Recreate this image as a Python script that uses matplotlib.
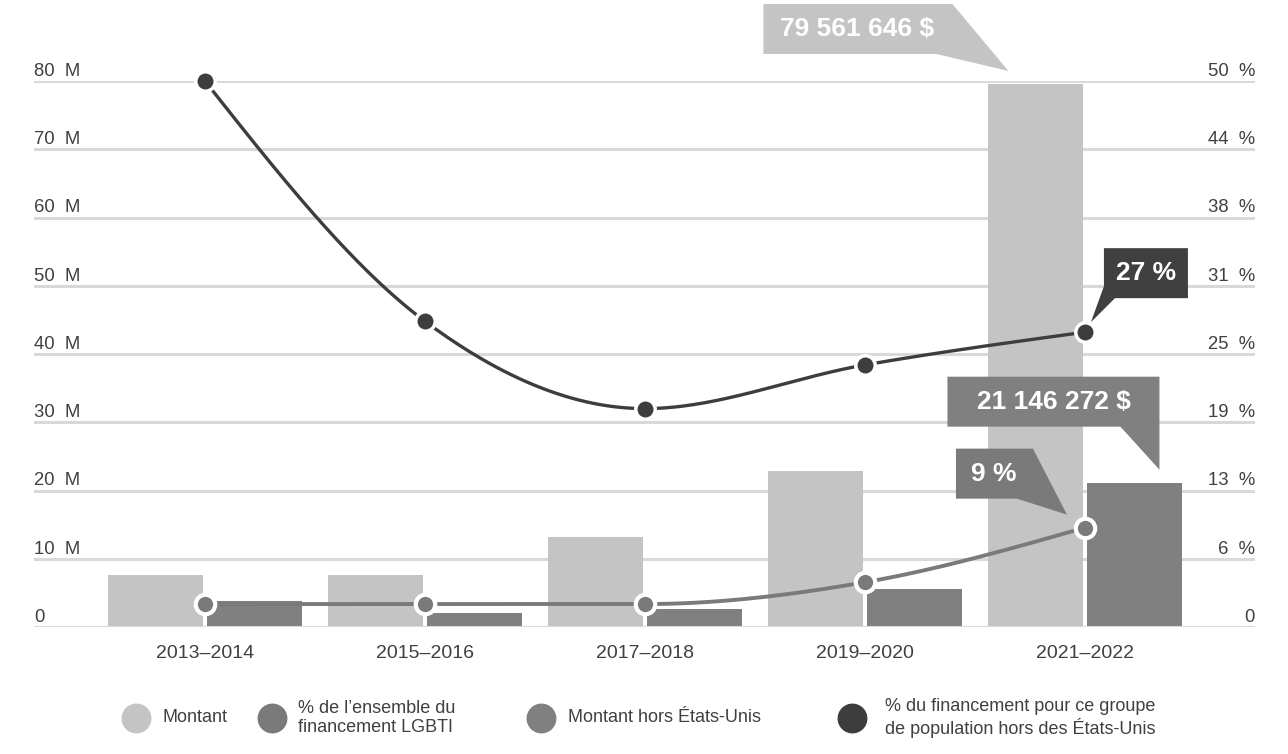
import numpy as np
import matplotlib.pyplot as plt
import matplotlib.transforms as mtransforms
from matplotlib.patches import Polygon
from matplotlib.lines import Line2D

plt.rcParams['font.family'] = ['Liberation Sans', 'DejaVu Sans']

# données
periodes = ['2013–2014', '2015–2016', '2017–2018', '2019–2020', '2021–2022']
montant = [7.6e6, 7.6e6, 13.2e6, 22.9e6, 79561646]
montant_hors_us = [3.8e6, 2.05e6, 2.6e6, 5.6e6, 21146272]
pct_ensemble = [2.1, 2.1, 2.1, 4.1, 9.1]
pct_hors_us = [50, 28, 20, 24, 27]

ticks_gauche = [0, 10e6, 20e6, 30e6, 40e6, 50e6, 60e6, 70e6, 80e6]
labels_gauche = ['0', '10  M', '20  M', '30  M', '40  M', '50  M', '60  M', '70  M', '80  M']
ticks_droite = [0, 6.25, 12.5, 18.75, 25, 31.25, 37.5, 43.75, 50]
labels_droite = ['0', '6  %', '13  %', '19  %', '25  %', '31  %', '38  %', '44  %', '50  %']

legende = ['Montant', '% de l’ensemble du\nfinancement LGBTI',
           'Montant hors États-Unis',
           '% du financement pour ce groupe\nde population hors des États-Unis']

# couleurs
c_clair, c_fonce_barre, c_ligne_moy, c_ligne_fonce = '#c4c4c4', '#808080', '#7a7a7a', '#3d3d3d'
c_texte = '#404040'


def monotone(x, y, n=60):
    # courbe monotone (type d3 curveMonotoneX) passant par les points
    x = np.asarray(x, float)
    y = np.asarray(y, float)
    h = np.diff(x)
    s = np.diff(y) / h
    t = np.zeros_like(y)
    for i in range(1, len(y) - 1):
        p = (s[i - 1] * h[i] + s[i] * h[i - 1]) / (h[i - 1] + h[i])
        t[i] = (np.sign(s[i - 1]) + np.sign(s[i])) * min(abs(s[i - 1]), abs(s[i]), 0.5 * abs(p))
    t[0] = (3 * s[0] - t[1]) / 2
    t[-1] = (3 * s[-1] - t[-2]) / 2
    xs, ys = [], []
    u = np.linspace(0, 1, n)
    for i in range(len(h)):
        h00 = 2 * u**3 - 3 * u**2 + 1
        h10 = u**3 - 2 * u**2 + u
        h01 = -2 * u**3 + 3 * u**2
        h11 = u**3 - u**2
        xs.append(x[i] + u * h[i])
        ys.append(h00 * y[i] + h10 * h[i] * t[i] + h01 * y[i + 1] + h11 * h[i] * t[i + 1])
    return np.concatenate(xs), np.concatenate(ys)


W, H = 1288, 754
fig = plt.figure(figsize=(W / 100, H / 100), dpi=100)
ax = fig.add_axes([34 / W, 1 - 627 / H, (1255 - 34) / W, (627 - 81) / H])
x = np.arange(len(periodes))

largeur = 0.432
ax.bar(x - 0.225, montant, largeur, color=c_clair, zorder=2)
ax.bar(x + 0.225, montant_hors_us, largeur, color=c_fonce_barre, zorder=2)
ax.axhline(0, color='#d9d9d9', lw=2.2, zorder=2.5)

ax.set_ylim(0, 80e6)
ax.set_xlim(-0.777, 4.773)
ax.set_yticks(ticks_gauche)
ax.set_yticklabels([])
ax.yaxis.grid(True, color='#d9d9d9', lw=2.2)
ax.set_axisbelow(True)
for sp in ax.spines.values():
    sp.set_visible(False)
ax.tick_params(axis='y', length=0)
ax.set_xticks(x, periodes)
ax.tick_params(axis='x', length=0, pad=13, labelsize=14, colors=c_texte)

ax2 = ax.twinx()
ax2.set_ylim(0, 50)
ax2.set_yticks([])
for sp in ax2.spines.values():
    sp.set_visible(False)

# étiquettes des axes au-dessus des lignes
tr_g = mtransforms.blended_transform_factory(ax.transAxes, ax.transData)
tr_d = mtransforms.blended_transform_factory(ax2.transAxes, ax2.transData)
for v, lab in zip(ticks_gauche, labels_gauche):
    ax.text(0, v + 0.75e6, lab, transform=tr_g, ha='left', va='baseline', fontsize=13.3, color=c_texte)
for v, lab in zip(ticks_droite, labels_droite):
    ax2.text(1, v + 0.47, lab, transform=tr_d, ha='right', va='baseline', fontsize=13.3, color=c_texte)

# courbes
cx, cy = monotone(x, pct_ensemble)
ax2.plot(cx, cy, color=c_ligne_moy, lw=2.8, zorder=3, solid_capstyle='round')
ax2.plot(x, pct_ensemble, 'o', ms=14, color=c_ligne_moy, mec='white', mew=3, zorder=4, clip_on=False)
cx, cy = monotone(x, pct_hors_us)
ax2.plot(cx, cy, color=c_ligne_fonce, lw=2.4, zorder=3)
ax2.plot(x, pct_hors_us, 'o', ms=14, color=c_ligne_fonce, mec='white', mew=2.5, zorder=4, clip_on=False)

fig.canvas.draw()
ident = mtransforms.IdentityTransform()


def bulle(axe, point, forme, pos_texte, texte, couleur):
    # bulle d'annotation, décalages en pixels (y vers le bas) depuis le point
    px, py = axe.transData.transform(point)
    pts = [(px + dx, py - dy) for dx, dy in forme]
    fig.add_artist(Polygon(pts, closed=True, facecolor=couleur, edgecolor='none', transform=ident, zorder=5))
    fig.text(px + pos_texte[0], py - pos_texte[1], texte, transform=ident, ha='center', va='center',
             fontsize=19, fontweight='bold', color='white', zorder=6)


bulle(ax, (x[4] - 0.225, montant[4]),
      [(-272, -80), (-83, -80), (-27, -13), (-99, -30), (-272, -30)], (-178, -55),
      '79 561 646 $', c_clair)
bulle(ax, (x[4] + 0.225, montant_hors_us[4]),
      [(-187, -106), (25, -106), (25, -13), (-14, -56), (-187, -56)], (-81, -81),
      '21 146 272 $', c_fonce_barre)
bulle(ax2, (x[4], pct_hors_us[4]),
      [(19, -84), (103, -84), (103, -34), (30, -34), (6, -10), (19, -46)], (61, -59),
      '27 %', '#404040')
bulle(ax2, (x[4], pct_ensemble[4]),
      [(-129, -79), (-52, -79), (-18, -13), (-68, -29), (-129, -29)], (-91, -54),
      '9 %', c_ligne_moy)

# légende
couleurs_leg = [c_clair, c_ligne_moy, c_fonce_barre, c_ligne_fonce]
cercles_x = [136, 272, 541, 852]
textes_x = [163, 298, 568, 885]
for col, cxp, tx, lab in zip(couleurs_leg, cercles_x, textes_x, legende):
    fig.add_artist(Line2D([cxp / W], [1 - 718 / H], marker='o', ms=20.5, color=col, ls='none',
                          transform=fig.transFigure))
    fig.text(tx / W, 1 - 718 / H, lab, ha='left', va='center', fontsize=13, color=c_texte,
             linespacing=1.2)

fig.savefig('out.png', dpi=100)
